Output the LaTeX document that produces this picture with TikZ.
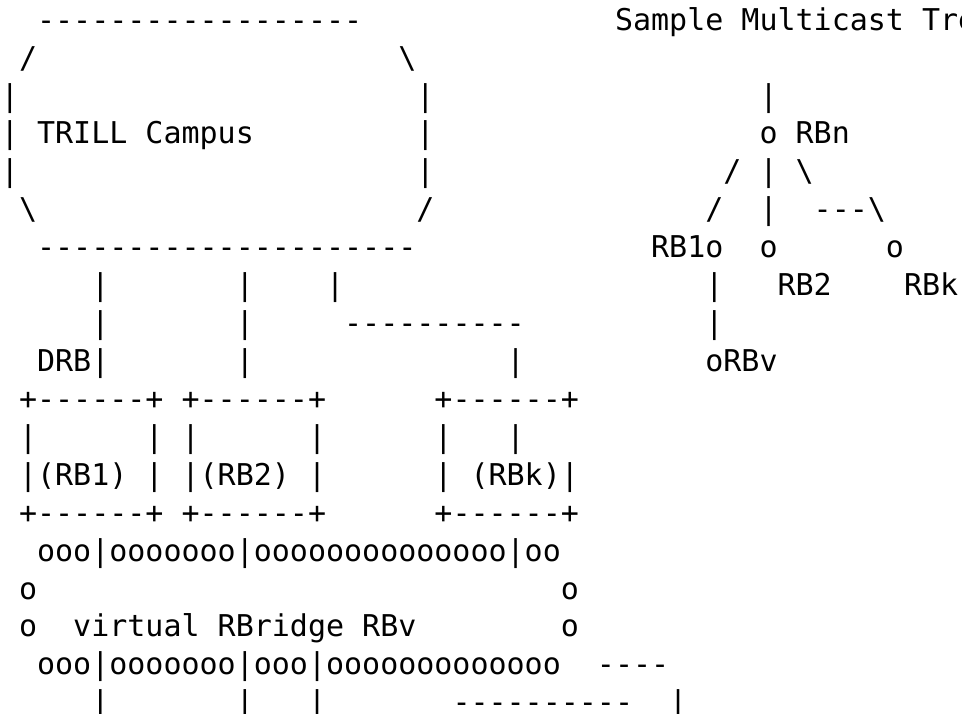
\documentclass[tikz,border=0pt]{standalone}
\usepackage{fontspec}
\setmonofont{DejaVu Sans Mono}
\tikzset{
  asc/.style={inner sep=0pt, outer sep=0pt, anchor=base west, text=black,
    font=\ttfamily\fontsize{30}{36}\selectfont}
}
% place text fragment: name, column, row, text
\newcommand{\ascii}[4]{\node[asc] (#1) at ({1+18.06*#2},{-30.2-37.92*#3}) {#4};}
\newcommand{\bs}{\textbackslash}
\begin{document}
\begin{tikzpicture}[x=1pt,y=1pt]
\useasboundingbox (0,0) rectangle (962,-714);
\fill[white] (0,0) rectangle (962,-714);
\clip (0,0) rectangle (962,-714);
% row 0
\ascii{r0a}{2}{0}{------------------}
\ascii{title}{34}{0}{Sample Multicast Tree}
% row 1
\ascii{r1a}{1}{1}{/}
\ascii{r1b}{22}{1}{\bs}
% row 2
\ascii{r2a}{0}{2}{|}
\ascii{r2b}{23}{2}{|}
\ascii{r2c}{42}{2}{|}
% row 3
\ascii{r3a}{0}{3}{|}
\ascii{campus}{2}{3}{TRILL Campus}
\ascii{r3b}{23}{3}{|}
\ascii{rbno}{42}{3}{o}
\ascii{rbn}{44}{3}{RBn}
% row 4
\ascii{r4a}{0}{4}{|}
\ascii{r4b}{23}{4}{|}
\ascii{r4c}{40}{4}{/}
\ascii{r4d}{42}{4}{|}
\ascii{r4e}{44}{4}{\bs}
% row 5
\ascii{r5a}{1}{5}{\bs}
\ascii{r5b}{23}{5}{/}
\ascii{r5c}{39}{5}{/}
\ascii{r5d}{42}{5}{|}
\ascii{r5e}{45}{5}{---\bs}
% row 6
\ascii{r6a}{2}{6}{---------------------}
\ascii{rb1t}{36}{6}{RB1o}
\ascii{rb2o}{42}{6}{o}
\ascii{rbko}{49}{6}{o}
% row 7
\ascii{r7a}{5}{7}{|}
\ascii{r7b}{13}{7}{|}
\ascii{r7c}{18}{7}{|}
\ascii{r7d}{39}{7}{|}
\ascii{rb2t}{43}{7}{RB2}
\ascii{rbkt}{50}{7}{RBk}
% row 8
\ascii{r8a}{5}{8}{|}
\ascii{r8b}{13}{8}{|}
\ascii{r8c}{19}{8}{----------}
\ascii{r8d}{39}{8}{|}
% row 9
\ascii{drb}{2}{9}{DRB|}
\ascii{r9b}{13}{9}{|}
\ascii{r9c}{28}{9}{|}
\ascii{rbvt}{39}{9}{oRBv}
% row 10
\ascii{r10a}{1}{10}{+------+}
\ascii{r10b}{10}{10}{+------+}
\ascii{r10c}{24}{10}{+------+}
% row 11
\ascii{r11a}{1}{11}{|}
\ascii{r11b}{8}{11}{|}
\ascii{r11c}{10}{11}{|}
\ascii{r11d}{17}{11}{|}
\ascii{r11e}{24}{11}{|}
\ascii{r11f}{28}{11}{|}
% row 12
\ascii{rb1}{1}{12}{|(RB1)}
\ascii{r12b}{8}{12}{|}
\ascii{rb2}{10}{12}{|(RB2)}
\ascii{r12d}{17}{12}{|}
\ascii{r12e}{24}{12}{|}
\ascii{rbk}{26}{12}{(RBk)|}
% row 13
\ascii{r13a}{1}{13}{+------+}
\ascii{r13b}{10}{13}{+------+}
\ascii{r13c}{24}{13}{+------+}
% row 14
\ascii{r14a}{2}{14}{ooo|ooooooo|oooooooooooooo|oo}
% row 15
\ascii{r15a}{1}{15}{o}
\ascii{r15b}{31}{15}{o}
% row 16
\ascii{r16a}{1}{16}{o}
\ascii{rbv}{4}{16}{virtual RBridge RBv}
\ascii{r16b}{31}{16}{o}
% row 17
\ascii{r17a}{2}{17}{ooo|ooooooo|ooo|ooooooooooooo}
\ascii{r17b}{33}{17}{----}
% row 18
\ascii{r18a}{5}{18}{|}
\ascii{r18b}{13}{18}{|}
\ascii{r18c}{17}{18}{|}
\ascii{r18d}{25}{18}{----------}
\ascii{r18e}{37}{18}{|}
\end{tikzpicture}
\end{document}
